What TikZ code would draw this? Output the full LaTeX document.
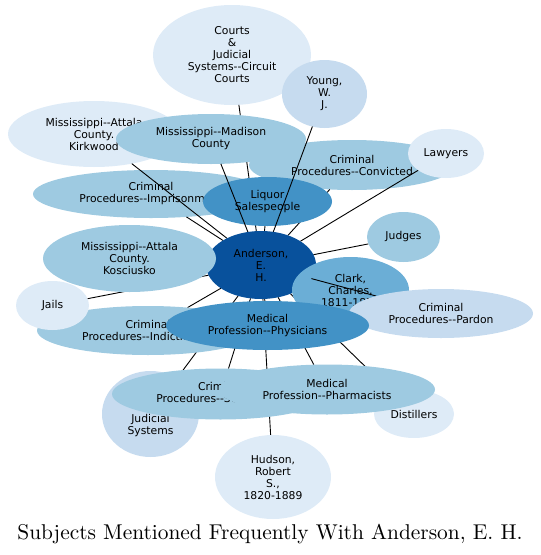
\documentclass[tikz,border=0pt]{standalone}
\usepackage{fontspec}
\usepackage{graphicx}
\usetikzlibrary{shapes.geometric}
\newfontfamily\lblfont{DejaVu Sans}
\newcommand\dblhy{-\kern0pt-}
\definecolor{bA}{HTML}{DEEBF7}
\definecolor{bB}{HTML}{C6DBEF}
\definecolor{bC}{HTML}{9ECAE1}
\definecolor{bD}{HTML}{6BAED6}
\definecolor{bE}{HTML}{4292C6}
\definecolor{bF}{HTML}{08519C}
\begin{document}
\begin{tikzpicture}[x=1pt,y=-1pt,
  ghost/.style 2 args={ellipse,inner sep=0pt,outer sep=0pt,minimum width=#1pt,minimum height=#2pt},
  blob/.style n args={3}{ellipse,inner sep=0pt,outer sep=0pt,minimum width=#1pt,minimum height=#2pt,fill=#3,draw=none,align=center,font=\lblfont\fontsize{10.8}{12}\selectfont},
  conn/.style={draw=black,line width=0.9pt},
  ttl/.style={font=\fontsize{10}{12}\selectfont,anchor=base,inner sep=0pt}]
\useasboundingbox (0,0) rectangle (541,555);
% geometry (invisible) nodes
\path
 (261,265)     node[ghost={110}{68}]  (and) {}
 (232,55)      node[ghost={158}{100}] (courts) {}
 (324.5,94)    node[ghost={85}{68}]   (young) {}
 (94,134)      node[ghost={172}{66}]  (kirk) {}
 (211,139)     node[ghost={190}{50}]  (madison) {}
 (352,165)     node[ghost={206}{50}]  (convicted) {}
 (446,153.5)   node[ghost={76}{49}]   (lawyers) {}
 (151,194)     node[ghost={236}{48}]  (imprison) {}
 (267.5,201.5) node[ghost={129}{49}]  (liquor) {}
 (403.5,237)   node[ghost={73}{50}]   (judges) {}
 (129.5,258.5) node[ghost={173}{67}]  (kosc) {}
 (52.5,305.5)  node[ghost={73}{49}]   (jails) {}
 (350.5,290)   node[ghost={117}{66}]  (clark) {}
 (441,313.5)   node[ghost={184}{49}]  (pardon) {}
 (148,330.5)   node[ghost={222}{49}]  (indict) {}
 (267.5,325.5) node[ghost={203}{49}]  (phys) {}
 (150.5,414)   node[ghost={97}{86}]   (judicial) {}
 (220.5,394)   node[ghost={217}{51}]  (sentencing) {}
 (327,389.5)   node[ghost={216}{50}]  (pharm) {}
 (414,414)     node[ghost={80}{48}]   (distill) {}
 (273,477)     node[ghost={116}{84}]  (hudson) {};
% layer 1
\node[blob={158}{100}{bA}] (courtsV) at (courts.center) {Courts\\\&\\Judicial\\Systems\dblhy Circuit\\Courts};
\node[blob={85}{68}{bB}] (youngV) at (young.center) {Young,\\W.\\J.};
\node[blob={172}{66}{bA}] (kirkV) at (kirk.center) {Mississippi\dblhy Attala\\County.\\Kirkwood};
\node[blob={236}{48}{bC}] (imprisonV) at (imprison.center) {Criminal\\Procedures\dblhy Imprisonment};
\node[blob={206}{50}{bC}] (convictedV) at (convicted.center) {Criminal\\Procedures\dblhy Convicted};
% edges under most nodes
\draw[conn] (and) -- (courts);
\draw[conn] (and) -- (convicted);
\draw[conn] (and) -- (jails);
\draw[conn] (and) -- (judicial);
\draw[conn] (and) -- (sentencing);
\draw[conn] (and) -- (hudson);
\draw[conn] (and) -- (pharm);
\draw[conn] (and) -- (distill);
\draw[conn] (and) -- (judges);
\draw[conn] (and) -- (kosc);
\draw[conn] (and) -- (clark);
\draw[conn] (and) -- (indict);
\draw[conn] (and) -- (imprison);
\draw[conn] (and) -- (kirk);
\draw[conn] (and) -- (lawyers);
\draw[conn] (and) -- (liquor);
\draw[conn] (and) -- (phys);
% layer 2
\node[blob={190}{50}{bC}] (madisonV) at (madison.center) {Mississippi\dblhy Madison\\County};
\node[blob={129}{49}{bE}] (liquorV) at (liquor.center) {Liquor\\Salespeople};
\draw[conn] (and) -- (madison);
\draw[conn] (and) -- (young);
\node[blob={76}{49}{bA}] (lawyersV) at (lawyers.center) {Lawyers};
\node[blob={110}{68}{bF}] (andV) at (and.center) {Anderson,\\E.\\H.};
\node[blob={173}{67}{bC}] (koscV) at (kosc.center) {Mississippi\dblhy Attala\\County.\\Kosciusko};
\node[blob={222}{49}{bC}] (indictV) at (indict.center) {Criminal\\Procedures\dblhy Indictments};
\node[blob={73}{49}{bA}] (jailsV) at (jails.center) {Jails};
\node[blob={117}{66}{bD}] (clarkV) at (clark.center) {Clark,\\Charles,\\1811-1877};
\draw[conn] (and) -- (pardon);
\node[blob={184}{49}{bB}] (pardonV) at (pardon.center) {Criminal\\Procedures\dblhy Pardon};
\node[blob={73}{50}{bC}] (judgesV) at (judges.center) {Judges};
\node[blob={97}{86}{bB}] (judicialV) at (judicial.center) {Courts\\\&\\Judicial\\Systems};
\node[blob={217}{51}{bC}] (sentencingV) at (sentencing.center) {Criminal\\Procedures\dblhy Sentencing};
\node[blob={80}{48}{bA}] (distillV) at (distill.center) {Distillers};
\node[blob={116}{84}{bA}] (hudsonV) at (hudson.center) {Hudson,\\Robert\\S.,\\1820-1889};
\node[blob={216}{50}{bC}] (pharmV) at (pharm.center) {Medical\\Profession\dblhy Pharmacists};
\node[blob={203}{49}{bE}] (physV) at (phys.center) {Medical\\Profession\dblhy Physicians};
% title
\node[ttl] (title) at (270,539.5) {\scalebox{2.14}{Subjects Mentioned Frequently With Anderson, E. H.}};
\end{tikzpicture}
\end{document}
